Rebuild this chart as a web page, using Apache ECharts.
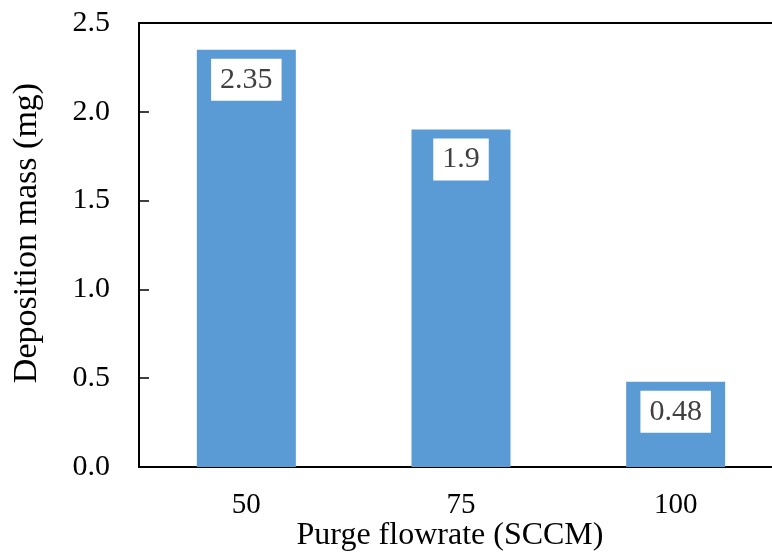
<!DOCTYPE html>
<html>
<head>
<meta charset="utf-8">
<script src="https://cdn.jsdelivr.net/npm/echarts@6/dist/echarts.min.js"></script>
<style>html,body{margin:0;padding:0;background:#fff}#c{width:772px;height:554px}</style>
</head>
<body>
<div id="c"></div>
<script>
const categories = ['50', '75', '100'];
const depositionMass = [2.35, 1.9, 0.48];
const yTicks = [0, 0.5, 1.0, 1.5, 2.0, 2.5];
const xTitle = 'Purge flowrate (SCCM)';
const yTitle = 'Deposition mass (mg)';

const FONT = '"Liberation Serif", "Times New Roman", serif';
const chart = echarts.init(document.getElementById('c'), null, {renderer: 'canvas'});
chart.setOption({
  animation: false,
  backgroundColor: '#fff',
  grid: {left: 139, right: -11, top: 23, bottom: 87, containLabel: false, outerBoundsMode: 'none'},
  xAxis: [{
    type: 'category',
    data: categories,
    position: 'bottom',
    axisLine: {show: true, lineStyle: {color: '#000', width: 2}},
    axisTick: {show: false},
    axisLabel: {color: '#000', fontFamily: FONT, fontSize: 29, margin: 24},
    name: xTitle,
    nameLocation: 'middle',
    nameGap: 53,
    nameMoveOverlap: false,
    nameTextStyle: {color: '#000', fontFamily: FONT, fontSize: 32, padding: [0, 22, 0, 0]}
  }, {
    type: 'category',
    data: categories,
    position: 'top',
    axisLine: {show: true, lineStyle: {color: '#000', width: 2}},
    axisTick: {show: false},
    axisLabel: {show: false}
  }],
  yAxis: {
    type: 'value',
    min: yTicks[0],
    max: yTicks[yTicks.length - 1],
    interval: 0.5,
    axisLine: {show: true, lineStyle: {color: '#000', width: 2}},
    axisTick: {show: true, inside: true, length: 10, lineStyle: {color: '#000', width: 1.5}},
    splitLine: {show: false},
    axisLabel: {color: '#000', fontFamily: FONT, fontSize: 30, margin: 29,
      formatter: v => Number(v).toFixed(1)},
    name: yTitle,
    nameLocation: 'middle',
    nameGap: 95,
    nameMoveOverlap: false,
    nameTextStyle: {color: '#000', fontFamily: FONT, fontSize: 34, padding: [0, 0, 0, 24]}
  },
  series: [{
    type: 'bar',
    data: depositionMass,
    barWidth: 99,
    itemStyle: {color: '#5B9BD5'},
    label: {
      show: true,
      position: 'insideTop',
      distance: 9,
      color: '#404040',
      fontFamily: FONT,
      fontSize: 30,
      lineHeight: 30,
      backgroundColor: '#fff',
      padding: [6, 9, 6, 9],
      formatter: p => String(p.value)
    }
  }]
});
</script>
</body>
</html>
